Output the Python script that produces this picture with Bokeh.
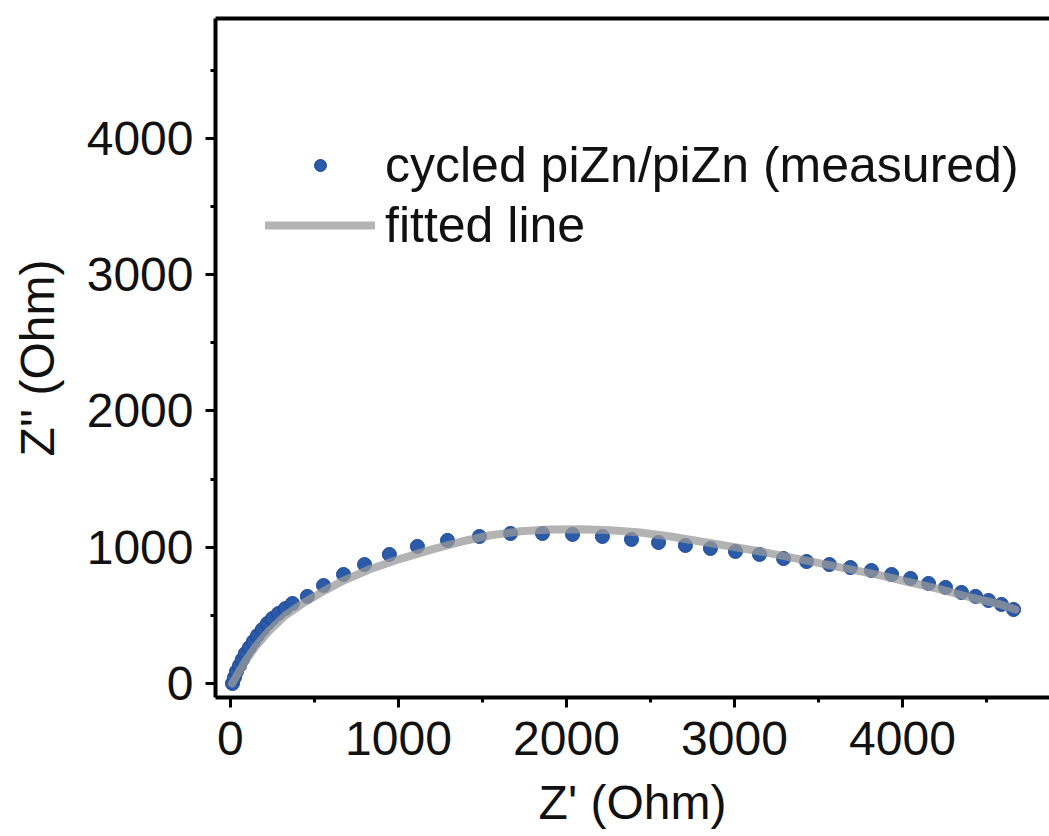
from bokeh.plotting import figure
from bokeh.models import (LinearAxis, SingleIntervalTicker, FixedTicker, Legend,
                          LegendItem, ColumnDataSource)
from bokeh.embed import file_html
from bokeh.resources import INLINE

# ---- data ----
z_real_measured = [12, 24, 36, 54, 71, 89, 113, 137, 161, 190, 220, 250, 286, 327, 369,
                   458, 554, 673, 798, 946, 1113, 1292, 1482, 1667, 1857, 2036, 2214,
                   2387, 2548, 2708, 2857, 3006, 3149, 3292, 3429, 3565, 3690, 3815,
                   3935, 4048, 4155, 4256, 4351, 4435, 4512, 4589, 4661]
z_imag_measured = [0, 44, 88, 132, 176, 220, 264, 308, 352, 396, 440, 477, 514, 550, 587,
                   639, 719, 800, 873, 947, 1006, 1050, 1079, 1101, 1101, 1094, 1079,
                   1057, 1035, 1013, 991, 969, 947, 917, 895, 873, 851, 829,
                   800, 771, 734, 705, 668, 639, 609, 580, 543]

z_real_fit = [10, 36, 89, 149, 226, 327, 446, 565, 673, 833, 1012, 1190, 1369, 1548,
              1726, 1905, 2083, 2262, 2440, 2619, 2798, 2976, 3155, 3333, 3512, 3690,
              3869, 4048, 4226, 4405, 4583, 4673]
z_imag_fit = [0, 55, 165, 270, 380, 500, 600, 685, 755, 840, 915, 980, 1040, 1088,
              1117, 1131, 1132, 1124, 1108, 1079, 1042, 1006, 969, 925, 881, 837,
              793, 741, 690, 631, 580, 543]

legend_labels = ["cycled piZn/piZn (measured)", "fitted line"]
x_title = "Z' (Ohm)"
y_title = "Z'' (Ohm)"

FONT = "Liberation Sans"
TXT = "#111111"

p = figure(width=1049, height=836, x_range=(-89, 4875), y_range=(-103, 4881),
           output_backend="svg", toolbar_location=None,
           min_border_left=215, min_border_right=0, min_border_top=18,
           min_border_bottom=139)
p.outline_line_color = None
p.grid.visible = False
p.background_fill_color = "white"
p.border_fill_color = "white"

for ax in (p.xaxis[0], p.yaxis[0]):
    ax.ticker = SingleIntervalTicker(interval=1000, num_minor_ticks=2)
    ax.axis_line_width = 4
    ax.axis_line_color = "black"
    ax.major_tick_line_width = 3
    ax.minor_tick_line_width = 3
    ax.major_tick_in = 0
    ax.major_tick_out = 10
    ax.minor_tick_in = 0
    ax.minor_tick_out = 5
    ax.major_label_text_font = FONT
    ax.major_label_text_font_size = "48px"
    ax.major_label_text_color = TXT
    ax.axis_label_text_font = FONT
    ax.axis_label_text_font_size = "48px"
    ax.axis_label_text_font_style = "normal"
    ax.axis_label_text_color = TXT

p.xaxis[0].axis_label = x_title
p.yaxis[0].axis_label = y_title
p.xaxis[0].major_label_standoff = 14
p.xaxis[0].major_label_text_line_height = 0.9
p.xaxis[0].axis_label_text_line_height = 0.9
p.xaxis[0].axis_label_standoff = 18
p.yaxis[0].major_label_standoff = 12
p.yaxis[0].axis_label_standoff = 20

top = LinearAxis(ticker=FixedTicker(ticks=[]), axis_line_width=4,
                 axis_line_color="black", major_tick_line_color=None,
                 minor_tick_line_color=None)
p.add_layout(top, "above")

meas = ColumnDataSource(dict(x=z_real_measured, y=z_imag_measured))
fit = ColumnDataSource(dict(x=z_real_fit, y=z_imag_fit))

r_meas = p.scatter("x", "y", source=meas, size=14, marker="circle",
                   fill_color="#2a5aa8", line_color="#1d4894", line_width=1)
r_fit = p.line("x", "y", source=fit, line_color="#9a9a9a", line_width=8,
               line_alpha=0.75, line_cap="round")

legend = Legend(items=[LegendItem(label=legend_labels[0], renderers=[r_meas]),
                       LegendItem(label=legend_labels[1], renderers=[r_fit])],
                location=(50, 443), margin=0, padding=0, spacing=2,
                glyph_width=110, glyph_height=30, label_height=57,
                label_standoff=10, label_text_font=FONT,
                label_text_font_size="50px", label_text_color=TXT,
                border_line_color=None, background_fill_alpha=0)
p.add_layout(legend, "center")

open("out.html", "w").write(file_html(p, INLINE))
